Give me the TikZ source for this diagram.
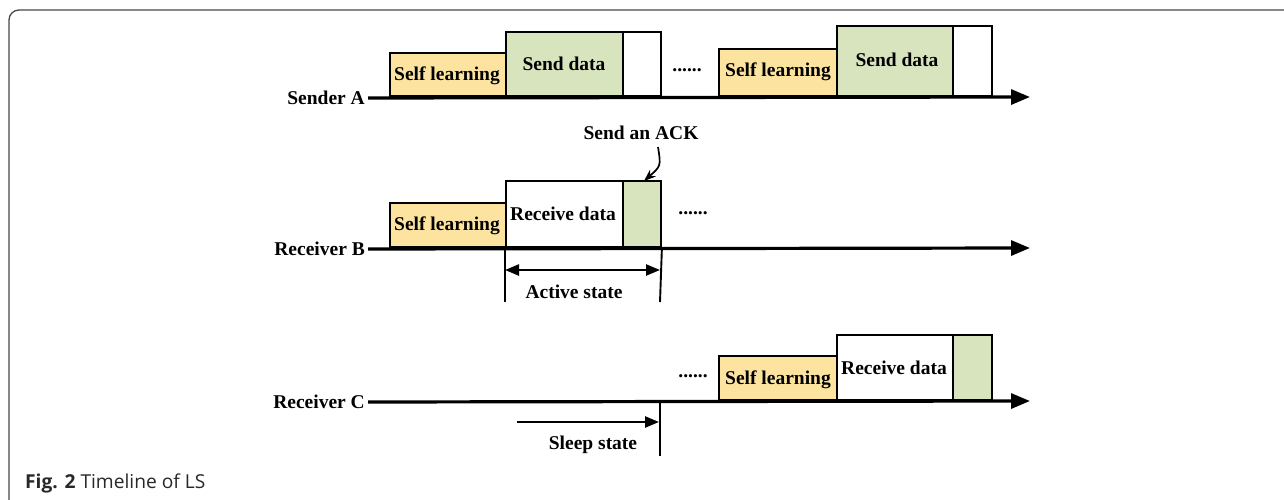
\documentclass[tikz,border=0pt]{standalone}
\usepackage{fontspec}
\setmainfont{Liberation Serif}
\newfontfamily\capfont{Open Sans}
\usetikzlibrary{arrows.meta}
\definecolor{slfill}{RGB}{252,228,160}
\definecolor{sdfill}{RGB}{216,228,190}
\definecolor{framec}{RGB}{70,70,70}
\definecolor{capc}{RGB}{40,40,40}
\begin{document}
\begin{tikzpicture}[x=1pt,y=-1pt,
 lbl/.style={font=\fontsize{19.5}{22}\selectfont\bfseries, inner sep=0pt},
 slot/.style={draw=black, line width=1.9pt, anchor=south west, inner sep=0pt},
 yel/.style={slot, fill=slfill},
 grn/.style={slot, fill=sdfill},
 wht/.style={slot, fill=white},
 axis/.style={line width=3.2pt, -{Triangle[length=19pt,width=15pt]}},
 thinline/.style={line width=1.9pt},
 dimarrow/.style={line width=2.4pt, {Triangle[length=14pt,width=11pt]}-{Triangle[length=14pt,width=11pt]}},
 onearrow/.style={line width=2.4pt, -{Triangle[length=14pt,width=11pt]}},
 ackarrow/.style={line width=1.7pt, -{Stealth[length=12pt,width=9pt]}}]
\useasboundingbox (0,0) rectangle (1284,500);
% frame
\draw[framec, line width=1.3pt, rounded corners=10pt] (9,500) -- (9,10) -- (1284,10);
\node[anchor=base west, inner sep=0pt, text=capc, font=\capfont\fontsize{19.2}{22}\selectfont] (cap) at (25,488) {\textbf{Fig. 2} Timeline of LS};

% ---------- Sender A ----------
\node[lbl, anchor=east] (la) at (365,98) {Sender A};
\node[yel, minimum width=116, minimum height=43] (a1) at (389,97) {};
\node[grn, minimum width=117, minimum height=64] (a2) at (505,97) {};
\node[wht, minimum width=38, minimum height=64] (a3) at (622,97) {};
\node[yel, minimum width=118, minimum height=47] (a4) at (718,97) {};
\node[grn, minimum width=116, minimum height=70] (a5) at (836,97) {};
\node[wht, minimum width=39, minimum height=70] (a6) at (952,97) {};
\coordinate (aend) at (1030,97);
\draw[axis] ([xshift=3pt]la.east) -- (aend);
\node[lbl] (ta1) at (447,76) {Self learning};
\node[lbl] (ta2) at (564,64) {Send data};
\node[lbl] (ta3) at (687,70) {......};
\node[lbl] (ta4) at (778,72) {Self learning};
\node[lbl] (ta5) at (897,60) {Send data};

% ---------- Receiver B ----------
\node[lbl, anchor=east] (lb) at (365,249) {Receiver B};
\node[yel, minimum width=116, minimum height=44] (b1) at (389,248) {};
\node[wht, minimum width=117, minimum height=66] (b2) at (505,248) {};
\node[grn, minimum width=38, minimum height=66] (b3) at (622,248) {};
\coordinate (bend) at (1030,248);
\draw[axis] ([xshift=3pt]lb.east) -- (bend);
\node[lbl] (tb1) at (447,226) {Self learning};
\node[lbl] (tb2) at (563,214) {Receive data};
\node[lbl] (tb3) at (693,213) {......};
\node[lbl] (ack) at (641,133) {Send an ACK};
\coordinate (acks) at (658,147);
\draw[ackarrow] (acks) .. controls (661,166) .. (644,181);
\coordinate (bv1) at (505,302);
\coordinate (bv2) at (660,302);
\draw[thinline] (b2.south west) -- (bv1);
\draw[thinline] (b3.south east) -- (bv2);
\coordinate (da) at (505,270);
\coordinate (db) at (660,270);
\draw[dimarrow] (da) -- (db);
\node[lbl] (act) at (574,292) {Active state};

% ---------- Receiver C ----------
\node[lbl, anchor=east] (lc) at (365,402) {Receiver C};
\node[yel, minimum width=118, minimum height=44] (c1) at (718,401) {};
\node[wht, minimum width=116, minimum height=65] (c2) at (836,401) {};
\node[grn, minimum width=39, minimum height=65] (c3) at (952,401) {};
\coordinate (cend) at (1030,401);
\draw[axis] ([xshift=3pt]lc.east) -- (cend);
\node[lbl] (tc1) at (778,380) {Self learning};
\node[lbl] (tc2) at (894,368) {Receive data};
\node[lbl] (tc3) at (693,376) {......};
\coordinate (ct) at (660,401);
\coordinate (cv) at (660,456);
\draw[thinline] (ct) -- (cv);
\coordinate (sa) at (517,422);
\coordinate (sb) at (659,422);
\draw[onearrow] (sa) -- (sb);
\node[lbl] (slp) at (593,445) {Sleep state};
\end{tikzpicture}
\end{document}
